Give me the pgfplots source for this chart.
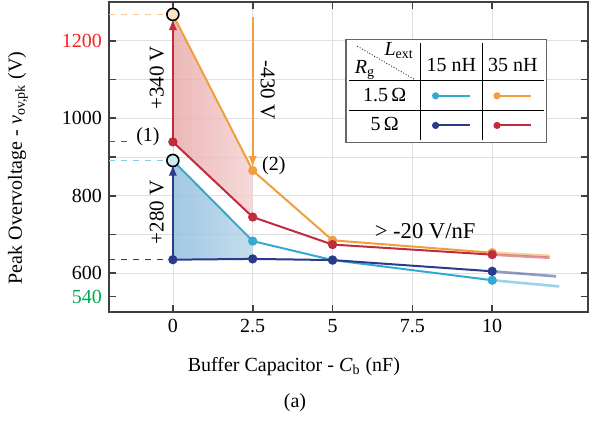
\documentclass[border=0pt]{standalone}
\usepackage{pgfplots}
\pgfplotsset{compat=1.18}
\usepackage{fontspec}
\setmainfont{Liberation Serif}

\definecolor{cLB}{RGB}{52,170,210}
\definecolor{cDB}{RGB}{44,58,138}
\definecolor{cRD}{RGB}{192,44,62}
\definecolor{cOR}{RGB}{240,158,62}
\definecolor{cFR}{RGB}{228,150,150}
\definecolor{cFB}{RGB}{110,170,210}
\definecolor{tRed}{RGB}{255,30,30}
\definecolor{tGreen}{RGB}{0,170,80}

% legend sample: dot + line
\newcommand{\legline}[1]{\tikz[baseline=-0.6ex]{\draw[#1, line width=1pt] (0,0)--(0.6cm,0); \fill[#1] (0,0) circle (1.8pt);}}

\begin{document}
\begin{tikzpicture}
\begin{axis}[
  scale only axis, width=239.5pt, height=155pt,
  xmin=-2, xmax=13, ymin=500, ymax=1300,
  xtick={0,2.5,5,7.5,10},
  ytick={600,700,...,1200},
  yticklabels={600,,800,,1000,,\textcolor{tRed}{1200}},
  extra y ticks={540}, extra y tick labels={\textcolor{tGreen}{540}},
  extra y tick style={grid=none},
  /pgf/number format/assume math mode=true,
  grid=major, grid style={line width=0.3pt, draw=gray!25},
  axis line style={draw=black!75, line width=0.9pt},
  major tick length=3.5pt,
  every tick/.style={black!75, line width=0.8pt},
  xlabel={Buffer Capacitor - \textit{C}\textsubscript{b} (nF)},
  ylabel={Peak Overvoltage - \textit{v}\textsubscript{ov,pk} (V)},
  xlabel style={at={([yshift=-27.5pt]rel axis cs:0.386,0)}, anchor=center},
  ylabel style={at={([xshift=-45.5pt]rel axis cs:0,0.465)}, anchor=center},
]
\coordinate (bl) at (rel axis cs:0,0);
\coordinate (tr) at (rel axis cs:1,1);
\coordinate (legc) at (axis cs:8.56,1070);

% shaded areas
\addplot[draw=none, shade, left color=cFR!85!white, right color=cFR!45!white, opacity=0.8]
  coordinates {(0,939) (0,1268) (2.5,865) (2.5,745)} -- cycle;
\addplot[draw=none, shade, left color=cFB!80!white, right color=cFB!50!white, opacity=0.8]
  coordinates {(0,635) (0,891) (2.5,683) (2.5,637)} -- cycle;

% dashed guide lines
\addplot[cOR!55!white, dashed, line width=0.6pt] coordinates {(-2,1268) (0,1268)};
\addplot[cRD, dashed, line width=0.6pt] coordinates {(-2,939) (-1.3,939)};
\addplot[cLB!60!white, dashed, line width=0.6pt] coordinates {(-2,891) (0,891)};
\addplot[cDB, dashed, line width=0.6pt] coordinates {(-2,635) (0,635)};

% arrows
\addplot[cRD, line width=0.9pt, -latex] coordinates {(0,939) (0,1256)};
\addplot[cDB, line width=0.9pt, -latex] coordinates {(0,635) (0,880)};
\addplot[cOR, line width=0.9pt, -latex] coordinates {(2.5,1262) (2.5,874)};

% faded extensions
\addplot[cLB, opacity=0.5, line width=1.3pt] coordinates {(10,582) (12.1,566)};
\addplot[cDB, opacity=0.5, line width=1.3pt] coordinates {(10,605) (12,592)};
\addplot[cOR, opacity=0.5, line width=1.3pt] coordinates {(10,653) (11.8,645)};
\addplot[cRD, opacity=0.5, line width=1.3pt] coordinates {(10,648) (11.8,640)};

% series
\addplot[cLB, line width=1pt, mark=*, mark size=1.8pt] coordinates {(0,891) (2.5,683) (5,634) (10,582)};
\addplot[cDB, line width=1pt, mark=*, mark size=1.8pt] coordinates {(0,635) (2.5,637) (5,634) (10,605)};
\addplot[cOR, line width=1pt, mark=*, mark size=1.8pt] coordinates {(0,1268) (2.5,865) (5,685) (10,653)};
\addplot[cRD, line width=1pt, mark=*, mark size=1.8pt] coordinates {(0,939) (2.5,745) (5,674) (10,648)};

% highlighted points
\addplot[only marks, mark=*, mark size=3pt, mark options={fill=cOR!30!white, draw=black, line width=0.8pt}] coordinates {(0,1268)};
\addplot[only marks, mark=*, mark size=3pt, mark options={fill=cLB!25!white, draw=black, line width=0.8pt}] coordinates {(0,891)};

% annotations
\node[rotate=90, font=\fontsize{10.5}{12}\selectfont] at (axis cs:-0.5,1104) {+340 V};
\node[rotate=90, font=\fontsize{10.5}{12}\selectfont] at (axis cs:-0.5,757) {+280 V};
\node[rotate=-90, font=\fontsize{10.5}{12}\selectfont] at (axis cs:2.97,1073) {-430 V};
\node at (axis cs:-0.78,952) {(1)};
\node at (axis cs:3.16,878) {(2)};
\node[font=\fontsize{11.3}{13}\selectfont] at (axis cs:7.9,709) {> -20 V/nF};
\end{axis}

% legend table
\node[draw=black!60, fill=white, line width=0.6pt, inner sep=1.5pt] at (legc) {%
  \setlength{\tabcolsep}{3pt}\renewcommand{\arraystretch}{1.2}%
  \begin{tabular}{c|c|c}
  \tikz[baseline=0.2ex]{\draw[densely dotted, line width=0.4pt] (0,0.48) -- (1.0,-0.1);
    \node[anchor=south west, inner sep=0] at (-0.05,-0.12) {\textit{R}\textsubscript{g}};
    \node[anchor=north east, inner sep=0] at (1.0,0.55) {\textit{L}\textsubscript{ext}};}
  & 15 nH & 35 nH\\ \hline
  1.5\,Ω & \legline{cLB} & \legline{cOR}\\ \hline
  5\,Ω & \legline{cDB} & \legline{cRD}
  \end{tabular}};

\node at ([shift={(93pt,-45.5pt)}]bl) {(a)};
\pgfresetboundingbox
\path ([shift={(-54.5pt,-54.5pt)}]bl) rectangle ([shift={(5.5pt,1pt)}]tr);
\end{tikzpicture}
\end{document}
